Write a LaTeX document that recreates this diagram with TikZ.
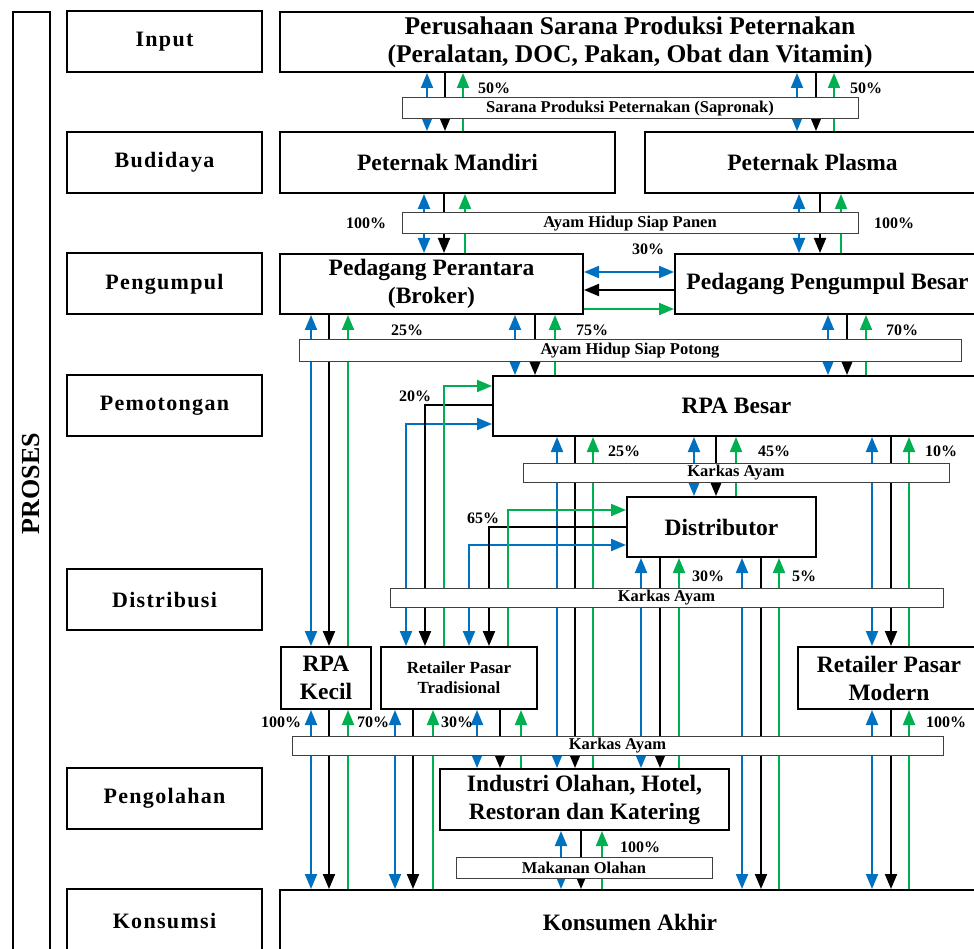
\documentclass[tikz,border=0pt]{standalone}
\usepackage{fontspec}
\setmainfont{Liberation Serif}
\newfontfamily\stagefont[LetterSpace=6]{Liberation Serif}
\usetikzlibrary{arrows.meta}
\definecolor{flowblue}{RGB}{0,112,192}
\definecolor{flowgreen}{RGB}{0,176,80}
\tikzset{
  stagebox/.style={draw,line width=2pt,minimum width=195,minimum height=61,
    font=\stagefont\fontsize{22}{26}\selectfont\bfseries},
  actor/.style={draw,line width=2pt,align=center,inner sep=0,
    font=\fontsize{23.5}{28}\selectfont\bfseries},
  goods/.style={draw=black!75,line width=1pt,fill=white,minimum height=21,inner sep=0,
    font=\fontsize{16.5}{18}\selectfont\bfseries},
  pct/.style={inner sep=0,font=\fontsize{16}{18}\selectfont\bfseries},
  blueline/.style={flowblue,line width=2pt},
  blackline/.style={black,line width=2pt},
  greenline/.style={flowgreen,line width=2pt}
}
\newcommand{\trio}[5]{%
  \draw[blueline,<->] (#1,0 |- #4.south) -- (#1,0 |- #5.north);
  \draw[blackline,->] (#2,0 |- #4.south) -- (#2,0 |- #5.north);
  \draw[greenline,<-] (#3,0 |- #4.south) -- (#3,0 |- #5.north);}
\begin{document}
\begin{tikzpicture}[x=1pt,y=-1pt,>={Triangle[length=15pt,width=12pt]}]
  \clip (0,0) rectangle (974,949);
  \node[draw,line width=2pt,rotate=90,minimum width=943,minimum height=37,
    font=\fontsize{26}{30}\selectfont\bfseries] (proses) at (31.5,483.5) {PROSES};
  \node[stagebox] (sinput) at (164.5,42) {Input};
  \node[stagebox] (sbudidaya) at (164.5,162.5) {Budidaya};
  \node[stagebox] (spengumpul) at (164.5,284) {Pengumpul};
  \node[stagebox] (spemotongan) at (164.5,405.5) {Pemotongan};
  \node[stagebox] (sdistribusi) at (164.5,599.5) {Distribusi};
  \node[stagebox] (spengolahan) at (164.5,798.5) {Pengolahan};
  \node[stagebox,minimum height=64] (skonsumsi) at (164.5,921) {Konsumsi};

  \node[actor,minimum width=700,minimum height=60,font=\fontsize{25.5}{28}\selectfont\bfseries]
    (perusahaan) at (630,42) {Perusahaan Sarana Produksi Peternakan\\(Peralatan, DOC, Pakan, Obat dan Vitamin)};
  \node[actor,minimum width=335,minimum height=61] (mandiri) at (447.5,162.5) {Peternak Mandiri};
  \node[actor,minimum width=335,minimum height=61] (plasma) at (812.5,162.5) {Peternak Plasma};
  \node[actor,minimum width=303,minimum height=60] (broker) at (431.5,284) {Pedagang Perantara\\(Broker)};
  \node[actor,minimum width=305,minimum height=60] (pengepul) at (827.5,284) {Pedagang Pengumpul Besar};
  \node[actor,minimum width=487,minimum height=60] (rpabesar) at (736.5,406) {RPA Besar};
  \node[actor,minimum width=189,minimum height=60] (distributor) at (721.5,527) {Distributor};
  \node[actor,minimum width=90,minimum height=62] (rpakecil) at (326,678) {RPA\\Kecil};
  \node[actor,minimum width=156,minimum height=62,font=\fontsize{17}{20}\selectfont\bfseries]
    (tradisional) at (459,678) {Retailer Pasar\\Tradisional};
  \node[actor,minimum width=182,minimum height=62] (modern) at (889,678) {Retailer Pasar\\Modern};
  \node[actor,minimum width=289,minimum height=61] (industri) at (584.5,799.5) {Industri Olahan, Hotel,\\Restoran dan Katering};
  \node[actor,minimum width=700,minimum height=64] (konsumen) at (630,922) {Konsumen Akhir};

  \trio{427}{445}{463}{perusahaan}{mandiri}
  \trio{797}{816}{834}{perusahaan}{plasma}
  \trio{424}{444}{465}{mandiri}{broker}
  \trio{799}{820}{841}{plasma}{pengepul}
  \trio{311}{329}{348}{broker}{rpakecil}
  \trio{515}{535}{555}{broker}{rpabesar}
  \trio{828}{847}{866}{pengepul}{rpabesar}
  \trio{557}{575}{593}{rpabesar}{industri}
  \trio{694}{716}{736}{rpabesar}{distributor}
  \trio{872}{891}{909}{rpabesar}{modern}
  \trio{641}{660}{679}{distributor}{industri}
  \trio{742}{761}{779}{distributor}{konsumen}
  \trio{311}{329}{348}{rpakecil}{konsumen}
  \trio{395}{413}{433}{tradisional}{konsumen}
  \trio{477}{500}{521}{tradisional}{industri}
  \trio{872}{891}{909}{modern}{konsumen}
  \trio{561}{581}{602}{industri}{konsumen}

  \draw[blueline,<->] (broker.east |- 0,272) -- (pengepul.west |- 0,272);
  \draw[blackline,->] (pengepul.west |- 0,290) -- (broker.east |- 0,290);
  \draw[greenline,->] (broker.east |- 0,309) -- (pengepul.west |- 0,309);
  \draw[blueline,<->] (rpabesar.west |- 0,424) -| (406,0 |- tradisional.north);
  \draw[blackline,->] (rpabesar.west |- 0,405) -| (425,0 |- tradisional.north);
  \draw[greenline,->] (444,0 |- tradisional.north) |- (rpabesar.west |- 0,386);
  \draw[blueline,<->] (distributor.west |- 0,545) -| (469,0 |- tradisional.north);
  \draw[blackline,->] (distributor.west |- 0,527) -| (489,0 |- tradisional.north);
  \draw[greenline,->] (508,0 |- tradisional.north) |- (distributor.west |- 0,510);

  \node[goods,minimum width=456] (sapronak) at (630,108.5) {Sarana Produksi Peternakan (Sapronak)};
  \node[goods,minimum width=456] (panen) at (630,223.5) {Ayam Hidup Siap Panen};
  \node[goods,minimum width=662] (potong) at (630,350.5) {Ayam Hidup Siap Potong};
  \node[goods,minimum width=426,minimum height=19] (karkasa) at (736,472.5) {Karkas Ayam};
  \node[goods,minimum width=553,minimum height=19] (karkasb) at (666.5,597.5) {Karkas Ayam};
  \node[goods,minimum width=651,minimum height=19] (karkasc) at (617.5,745.5) {Karkas Ayam};
  \node[goods,minimum width=256] (makanan) at (584,867.5) {Makanan Olahan};

  \node[pct] (pa) at (494,88) {50\%};
  \node[pct] (pb) at (866,88) {50\%};
  \node[pct] (pc) at (366,223) {100\%};
  \node[pct] (pd) at (894,223) {100\%};
  \node[pct] (pe) at (648,249) {30\%};
  \node[pct] (pf) at (407,330) {25\%};
  \node[pct] (pg) at (592,330) {75\%};
  \node[pct] (ph) at (902,330) {70\%};
  \node[pct] (pi) at (415,396) {20\%};
  \node[pct] (pj) at (624,451) {25\%};
  \node[pct] (pk) at (774,451) {45\%};
  \node[pct] (pl) at (941,451) {10\%};
  \node[pct] (pm) at (483,518) {65\%};
  \node[pct] (pn) at (708,576) {30\%};
  \node[pct] (po) at (804,576) {5\%};
  \node[pct] (pp) at (281,722) {100\%};
  \node[pct] (pq) at (373,722) {70\%};
  \node[pct] (pr) at (457,722) {30\%};
  \node[pct] (ps) at (946,722) {100\%};
  \node[pct] (pt) at (640,847) {100\%};
\end{tikzpicture}
\end{document}
